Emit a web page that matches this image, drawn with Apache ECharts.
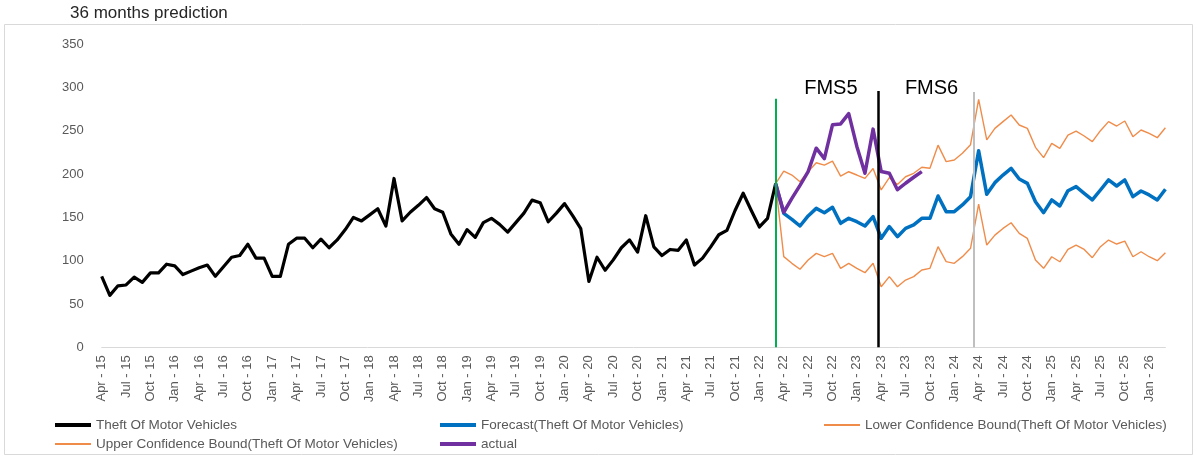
<!DOCTYPE html>
<html>
<head>
<meta charset="utf-8">
<title>36 months prediction</title>
<script src="https://cdn.jsdelivr.net/npm/echarts@6/dist/echarts.min.js"></script>
<style>
  html, body { margin: 0; padding: 0; background: #ffffff; }
  #chart { width: 1197px; height: 458px; }
</style>
</head>
<body>
<div id="chart"></div>
<script>
// Monthly categories, Apr 2015 to Mar 2026
const monthLabels = [
  'Apr - 15','May - 15','Jun - 15','Jul - 15','Aug - 15','Sep - 15','Oct - 15','Nov - 15','Dec - 15',
  'Jan - 16','Feb - 16','Mar - 16','Apr - 16','May - 16','Jun - 16','Jul - 16','Aug - 16','Sep - 16','Oct - 16','Nov - 16','Dec - 16',
  'Jan - 17','Feb - 17','Mar - 17','Apr - 17','May - 17','Jun - 17','Jul - 17','Aug - 17','Sep - 17','Oct - 17','Nov - 17','Dec - 17',
  'Jan - 18','Feb - 18','Mar - 18','Apr - 18','May - 18','Jun - 18','Jul - 18','Aug - 18','Sep - 18','Oct - 18','Nov - 18','Dec - 18',
  'Jan - 19','Feb - 19','Mar - 19','Apr - 19','May - 19','Jun - 19','Jul - 19','Aug - 19','Sep - 19','Oct - 19','Nov - 19','Dec - 19',
  'Jan - 20','Feb - 20','Mar - 20','Apr - 20','May - 20','Jun - 20','Jul - 20','Aug - 20','Sep - 20','Oct - 20','Nov - 20','Dec - 20',
  'Jan - 21','Feb - 21','Mar - 21','Apr - 21','May - 21','Jun - 21','Jul - 21','Aug - 21','Sep - 21','Oct - 21','Nov - 21','Dec - 21',
  'Jan - 22','Feb - 22','Mar - 22','Apr - 22','May - 22','Jun - 22','Jul - 22','Aug - 22','Sep - 22','Oct - 22','Nov - 22','Dec - 22',
  'Jan - 23','Feb - 23','Mar - 23','Apr - 23','May - 23','Jun - 23','Jul - 23','Aug - 23','Sep - 23','Oct - 23','Nov - 23','Dec - 23',
  'Jan - 24','Feb - 24','Mar - 24','Apr - 24','May - 24','Jun - 24','Jul - 24','Aug - 24','Sep - 24','Oct - 24','Nov - 24','Dec - 24',
  'Jan - 25','Feb - 25','Mar - 25','Apr - 25','May - 25','Jun - 25','Jul - 25','Aug - 25','Sep - 25','Oct - 25','Nov - 25','Dec - 25',
  'Jan - 26','Feb - 26','Mar - 26'
];

// Recorded thefts, Apr 2015 to Mar 2022
const theftHistory = [
  82, 60, 71, 72, 81, 75, 86, 86, 96,
  94, 84, 88, 92, 95, 82, 93, 104, 106, 119, 103, 103,
  82, 82, 119, 126, 126, 115, 125, 115, 124, 136, 150, 146,
  153, 160, 140, 195, 146, 156, 164, 173, 160, 156, 131, 119,
  136, 127, 144, 149, 142, 133, 144, 155, 170, 167, 145, 155,
  166, 152, 137, 76, 104, 89, 101, 115, 124, 110, 152, 116,
  106, 113, 112, 124, 95, 103, 116, 130, 135, 158, 178, 158,
  139, 149, 189
];

// Forecast and bounds start at Mar 2022 (shared point with the history)
const forecastStart = 83;
const forecast = [
  189, 154.7, 147.8, 140.1, 151.7, 160.5, 155.5, 161.7, 143.2, 149, 145.1, 140.1, 150.9,
  125.9, 139.4, 127.8, 137.4, 141.3, 149, 149, 174.8, 156.7, 156.7, 164.4, 174,
  227.1, 176.7, 190.2, 199, 206.7, 194.4, 189.4, 168.2, 155.5, 170.2, 163.2, 180.9,
  185.6, 177.9, 170.2, 181.7, 193.3, 186.3, 193.3, 174, 180.6, 176, 170.2, 182.5
];
const lowerBound = [
  189, 104.7, 97, 90.1, 100.8, 108.5, 104.7, 108.5, 91.2, 97, 91.2, 86.2, 97,
  70, 81.6, 70, 77.7, 81.6, 89.3, 91.2, 116.2, 98.9, 97, 104.7, 114.3,
  165.5, 118.1, 129.6, 137.3, 143.9, 131.6, 125.8, 100.8, 91.2, 104.6, 98.8, 113.1,
  118.1, 113.1, 103.5, 116.2, 123.9, 119.3, 122.7, 104.6, 110.4, 104.6, 100, 109.2
];
const upperBound = [
  189, 203.6, 199, 191.3, 202.8, 213.2, 210.5, 215.1, 197.8, 202.8, 199, 195.1, 206.6,
  181.8, 196, 188, 197, 201, 208, 206.8, 233.5, 214.5, 216.4, 224.1, 234,
  286.4, 239.5, 252.9, 260.7, 268.4, 256.8, 252.9, 231, 219.1, 235.6, 229.8, 245.2,
  249.8, 244.1, 237.5, 250.2, 260.7, 255.6, 261.4, 243.3, 251, 247.1, 242.1, 253.6
];
// Observed values after the forecast origin, Mar 2022 to Sep 2023
const actual = [
  189, 156, 172, 187, 203, 230, 218, 257, 258, 270, 232, 201, 252,
  203, 201, 182, 189.5, 196.4, 203
];

// Model-period boundaries (month index) and annotation labels
const phaseBreaks = [83, 95.65, 107.35];
const phaseLineTops = [287, 296, 295];
const phaseLabels = [
  { name: 'FMS5', at: 89.8, value: 299 },
  { name: 'FMS6', at: 102.2, value: 299 }
];

const FONT = '"Liberation Sans", Arial, sans-serif';
const toPairs = (arr, start) => arr.map((v, k) => [start + k, v]);

const chart = echarts.init(document.getElementById('chart'), null, { renderer: 'canvas' });

const NAMES = {
  hist: 'Theft Of Motor Vehicles',
  fc: 'Forecast(Theft Of Motor Vehicles)',
  lo: 'Lower Confidence Bound(Theft Of Motor Vehicles)',
  up: 'Upper Confidence Bound(Theft Of Motor Vehicles)',
  act: 'actual'
};

const legendText = { fontFamily: FONT, fontSize: 13.5, color: '#595959' };
function legendAt(name, left, top, h) {
  return {
    data: [name], left: left, top: top, orient: 'horizontal', padding: 0,
    icon: 'rect', itemWidth: 36, itemHeight: h, itemGap: 0,
    textStyle: legendText, selectedMode: false
  };
}

const phaseColors = ['#00B050', '#000000', '#BFBFBF'];
const phaseWidths = [2, 2.5, 2];

const option = {
  animation: false,
  backgroundColor: '#ffffff',
  title: {
    text: '36 months prediction', left: 70, top: 5, padding: 0,
    textStyle: { fontFamily: FONT, fontSize: 17, fontWeight: 'normal', color: '#262626' }
  },
  graphic: [{
    type: 'rect', silent: true, z: -10,
    shape: { x: 4.5, y: 24.5, width: 1188, height: 430 },
    style: { fill: 'none', stroke: '#D9D9D9', lineWidth: 1 }
  }],
  legend: [
    legendAt(NAMES.hist, 55, 418, 4),
    legendAt(NAMES.fc, 440, 418, 4),
    legendAt(NAMES.lo, 824, 418, 2),
    legendAt(NAMES.up, 55, 437, 2),
    legendAt(NAMES.act, 440, 437, 4)
  ],
  grid: { left: 101.7, right: 31.6, top: 44.3, bottom: 110.7, containLabel: false },
  xAxis: {
    type: 'value', min: 0, max: 131, interval: 3,
    axisLine: { show: true, lineStyle: { color: '#D9D9D9', width: 1 } },
    axisTick: { show: false },
    splitLine: { show: false },
    axisLabel: {
      rotate: 90, margin: 8, showMaxLabel: false,
      fontFamily: FONT, fontSize: 13, color: '#595959',
      formatter: v => (v % 3 === 0 && monthLabels[v]) ? monthLabels[v] : ''
    }
  },
  yAxis: {
    type: 'value', min: 0, max: 350, interval: 50,
    axisLine: { show: false }, axisTick: { show: false }, splitLine: { show: false },
    axisLabel: { margin: 18, fontFamily: FONT, fontSize: 13, color: '#595959' }
  },
  series: [
    {
      name: NAMES.lo, type: 'line', data: toPairs(lowerBound, forecastStart),
      symbol: 'none', color: '#F08C4A', lineStyle: { width: 1.4, color: '#F08C4A' }, z: 2
    },
    {
      name: NAMES.up, type: 'line', data: toPairs(upperBound, forecastStart),
      symbol: 'none', color: '#F08C4A', lineStyle: { width: 1.4, color: '#F08C4A' }, z: 2
    },
    {
      name: NAMES.hist, type: 'line', data: toPairs(theftHistory, 0),
      symbol: 'none', color: '#000000', lineStyle: { width: 3.2, color: '#000000', join: 'round' }, z: 3
    },
    {
      name: NAMES.fc, type: 'line', data: toPairs(forecast, forecastStart),
      symbol: 'none', color: '#0070C0', lineStyle: { width: 3.5, color: '#0070C0', join: 'round' }, z: 3
    },
    {
      name: NAMES.act, type: 'line', data: toPairs(actual, forecastStart),
      symbol: 'none', color: '#7030A0', lineStyle: { width: 3.5, color: '#7030A0', join: 'round' }, z: 4,
      markLine: {
        silent: true, symbol: ['none', 'none'], animation: false, z: 6,
        label: { show: false },
        data: phaseBreaks.map((x, k) => [
          { coord: [x, 0], lineStyle: { color: phaseColors[k], width: phaseWidths[k], type: 'solid' } },
          { coord: [x, phaseLineTops[k]] }
        ])
      },
      markPoint: {
        silent: true, symbol: 'circle', symbolSize: 0, animation: false,
        label: {
          show: true, position: 'inside', formatter: p => p.name,
          fontFamily: FONT, fontSize: 20, color: '#000000'
        },
        data: phaseLabels.map(p => ({ name: p.name, coord: [p.at, p.value] }))
      }
    }
  ]
};

chart.setOption(option);
</script>
</body>
</html>
